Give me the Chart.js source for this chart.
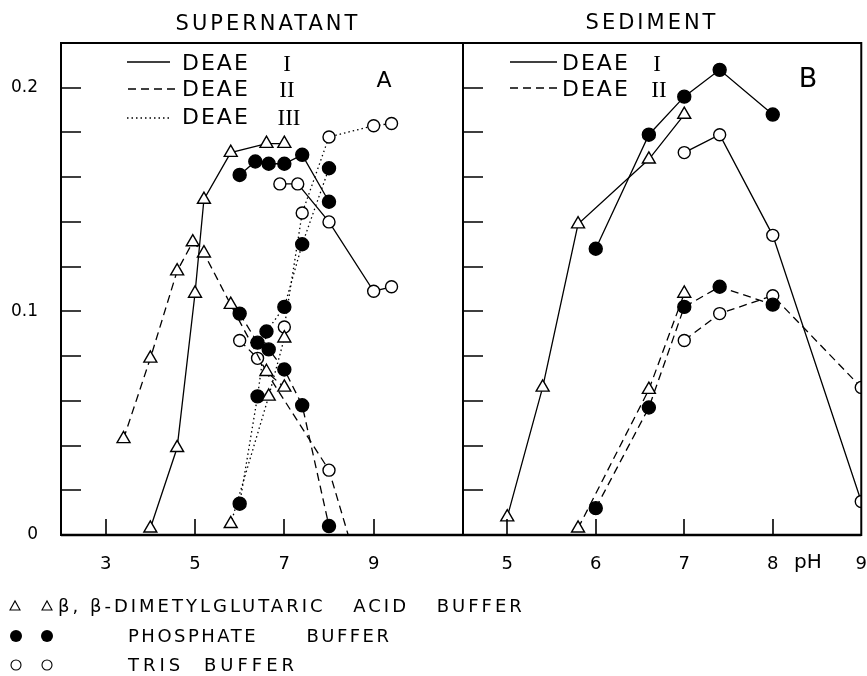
<!DOCTYPE html>
<html>
<head>
<meta charset="utf-8">
<script src="https://cdn.jsdelivr.net/npm/chart.js@4.4.1/dist/chart.umd.min.js"></script>
<style>
  body { margin: 0; background: #fff; }
  #page { position: relative; width: 867px; height: 676px; overflow: hidden; background: #fff; font-family: "DejaVu Sans", sans-serif; color: #000; }
  canvas { position: absolute; top: 0; }
  #cA { left: 0; }
  #cB { left: 462px; }
  .t { position: absolute; white-space: pre; line-height: 1; transform: translateY(-50%); }
  .c { transform: translate(-50%, -50%); }
  .title { font-size: 21px; letter-spacing: 3px; }
  .deae { font-size: 22px; letter-spacing: 2px; }
  .rom { font-family: "Liberation Serif", serif; font-size: 23px; }
  .leg { font-size: 18px; letter-spacing: 3px; }
  .nows { word-spacing: 0; }
  svg { position: absolute; left: 0; top: 0; }
</style>
</head>
<body>
<div id="page">
  <canvas id="cA" width="464" height="600"></canvas>
  <canvas id="cB" width="405" height="600"></canvas>

  <div class="t c title" style="left:268px;top:23px">SUPERNATANT</div>
  <div class="t c title" style="left:652px;top:22px">SEDIMENT</div>

  <div class="t deae" style="left:182px;top:63px">DEAE</div>
  <div class="t deae" style="left:182px;top:89px">DEAE</div>
  <div class="t deae" style="left:182px;top:117px">DEAE</div>
  <div class="t c rom" style="left:287px;top:63px">I</div>
  <div class="t c rom" style="left:287px;top:89px">II</div>
  <div class="t c rom" style="left:289px;top:117px">III</div>
  <div class="t c" style="left:384px;top:80px;font-size:22px">A</div>

  <div class="t deae" style="left:562px;top:63px">DEAE</div>
  <div class="t deae" style="left:562px;top:89px">DEAE</div>
  <div class="t c rom" style="left:657px;top:63px">I</div>
  <div class="t c rom" style="left:659px;top:89px">II</div>
  <div class="t c" style="left:808px;top:77px;font-size:27px">B</div>

  <div class="t" style="left:794px;top:561px;font-size:20px">pH</div>

  <div class="t leg" style="left:58px;top:606px;word-spacing:19px"><span class="nows">β, β-DIMETYLGLUTARIC</span> ACID BUFFER</div>
  <div class="t leg" style="left:128px;top:636px;word-spacing:40px;letter-spacing:2.5px">PHOSPHATE BUFFER</div>
  <div class="t leg" style="left:128px;top:665px;word-spacing:10px;letter-spacing:4px">TRIS BUFFER</div>

  <svg width="867" height="676">
    <g stroke="#000" stroke-width="1.3" fill="none">
      <line x1="127" y1="62" x2="170" y2="62"/>
      <line x1="128" y1="89" x2="175" y2="89" stroke-dasharray="8 5"/>
      <line x1="127" y1="118" x2="170" y2="118" stroke-dasharray="1.5 3"/>
      <line x1="510" y1="62" x2="557" y2="62"/>
      <line x1="510" y1="88" x2="557" y2="88" stroke-dasharray="8 5"/>
      <polygon points="10,610 20,610 15,601" stroke-width="1.1"/>
      <polygon points="42,610 52,610 47,601" stroke-width="1.1"/>
      <circle cx="16" cy="665" r="5" stroke-width="1.1"/>
      <circle cx="47" cy="665" r="5" stroke-width="1.1"/>
    </g>
    <circle cx="16" cy="636" r="6" fill="#000"/>
    <circle cx="47" cy="636" r="6" fill="#000"/>
  </svg>
</div>

<script>
/* axes */
const yTickVals = [0, 0.02, 0.04, 0.06, 0.08, 0.1, 0.12, 0.14, 0.16, 0.18, 0.2];
const yLabelVals = [0, 0.1, 0.2];
const xTicksA = [3, 5, 7, 9];
const xTicksB = [5, 6, 7, 8, 9];

/* SUPERNATANT (A) */
// DEAE I
const supI_dmgPH = [4.0, 4.6, 5.0, 5.2, 5.8, 6.6, 7.0];
const supI_dmgVal = [0.003, 0.039, 0.108, 0.150, 0.171, 0.175, 0.175];
const supI_phosPH = [6.0, 6.35, 6.65, 7.0, 7.4, 8.0];
const supI_phosVal = [0.161, 0.167, 0.166, 0.166, 0.170, 0.149];
const supI_trisPH = [6.9, 7.3, 8.0, 9.0, 9.4];
const supI_trisVal = [0.157, 0.157, 0.140, 0.109, 0.111];
// DEAE II
const supII_dmgPH = [3.4, 4.0, 4.6, 4.95, 5.2, 5.8, 6.6, 7.0];
const supII_dmgVal = [0.043, 0.079, 0.118, 0.131, 0.126, 0.103, 0.073, 0.066];
const supII_phosPH = [6.0, 6.4, 6.65, 7.0, 7.4, 8.0];
const supII_phosVal = [0.099, 0.086, 0.083, 0.074, 0.058, 0.004];
const supII_trisPH = [6.0, 6.4, 8.0, 8.43];
const supII_trisVal = [0.087, 0.079, 0.029, 0];
// DEAE III
const supIII_dmgPH = [5.8, 6.65, 7.0];
const supIII_dmgVal = [0.005, 0.062, 0.088];
const supIII_phosPH = [6.0, 6.4, 6.6, 7.0, 7.4, 8.0];
const supIII_phosVal = [0.014, 0.062, 0.091, 0.102, 0.130, 0.164];
const supIII_trisPH = [7.0, 7.4, 8.0, 9.0, 9.4];
const supIII_trisVal = [0.093, 0.144, 0.178, 0.183, 0.184];

/* SEDIMENT (B) */
const sedI_dmgPH = [5.0, 5.4, 5.8, 6.6, 7.0];
const sedI_dmgVal = [0.008, 0.066, 0.139, 0.168, 0.188];
const sedI_phosPH = [6.0, 6.6, 7.0, 7.4, 8.0];
const sedI_phosVal = [0.128, 0.179, 0.196, 0.208, 0.188];
const sedI_trisPH = [7.0, 7.4, 8.0, 9.0];
const sedI_trisVal = [0.171, 0.179, 0.134, 0.015];
const sedII_dmgPH = [5.8, 6.6, 7.0];
const sedII_dmgVal = [0.003, 0.065, 0.108];
const sedII_phosPH = [6.0, 6.6, 7.0, 7.4, 8.0];
const sedII_phosVal = [0.012, 0.057, 0.102, 0.111, 0.103];
const sedII_trisPH = [7.0, 7.4, 8.0, 9.0];
const sedII_trisVal = [0.087, 0.099, 0.107, 0.066];

const markers = {
    tri: { pointStyle: "triangle", pointRadius: 7.5, pointBackgroundColor: "#fff" },
    dot: { pointStyle: "circle", pointRadius: 6.5, pointBackgroundColor: "#000" },
    ring: { pointStyle: "circle", pointRadius: 6, pointBackgroundColor: "#fff" }
};
const dashes = { solid: [], dashed: [8, 5], dotted: [1.5, 3] };

function series(ph, val, mark, dash, radius) {
    const m = markers[mark];
    return {
        data: ph.map((p, i) => ({ x: p, y: val[i] })),
        borderColor: "#000",
        borderWidth: 1.3,
        borderDash: dashes[dash],
        pointStyle: m.pointStyle,
        pointRadius: radius || m.pointRadius,
        pointBackgroundColor: m.pointBackgroundColor,
        pointBorderColor: "#000",
        pointBorderWidth: 1.4,
        tension: 0,
        fill: false
    };
}

// border box and inward tick marks
const frame = {
    id: "frame",
    afterDatasetsDraw(chart, args, o) {
        const { ctx, chartArea: a, scales: { x, y } } = chart;
        ctx.save();
        ctx.strokeStyle = "#000";
        ctx.lineWidth = 2;
        ctx.strokeRect(a.left, a.top, a.right - a.left, a.bottom - a.top);
        ctx.lineWidth = 2.5;
        ctx.beginPath();
        ctx.moveTo(a.left, a.bottom);
        ctx.lineTo(a.right, a.bottom);
        ctx.stroke();
        ctx.lineWidth = 1.6;
        ctx.beginPath();
        yTickVals.forEach(v => {
            if (v === 0) return;
            const py = Math.round(y.getPixelForValue(v));
            ctx.moveTo(a.left, py);
            ctx.lineTo(a.left + 20, py);
        });
        o.xTicks.forEach(v => {
            const px = Math.round(x.getPixelForValue(v));
            ctx.moveTo(px, a.bottom);
            ctx.lineTo(px, a.bottom - 16);
        });
        ctx.stroke();
        ctx.restore();
    }
};

// tick marks are hidden; tickLength only pushes the labels away from the axis
function xScale(min, max, ticks) {
    return {
        type: "linear", min: min, max: max,
        border: { display: false },
        grid: { display: false, drawTicks: true, tickLength: 19 },
        ticks: { autoSkip: false, maxRotation: 0, padding: 0, color: "#000",
                 font: { family: "DejaVu Sans", size: 18 } },
        afterBuildTicks: s => { s.ticks = ticks.map(v => ({ value: v })); },
        afterFit: s => { s.height = 65; }
    };
}

function yScale(show) {
    return {
        type: "linear", min: 0, max: 0.22,
        display: show,
        border: { display: false },
        grid: { display: false, drawTicks: true, tickLength: 23 },
        ticks: {
            autoSkip: false, padding: 0, color: "#000",
            font: { family: "DejaVu Sans", size: 17 },
            callback: v => yLabelVals.some(l => Math.abs(l - v) < 1e-9) ? (v === 0 ? "0" : v.toFixed(1)) : ""
        },
        afterBuildTicks: s => { s.ticks = yTickVals.map(v => ({ value: v })); },
        afterFit: s => { if (show) s.width = 61; }
    };
}

function makeChart(id, datasets, xs, ys, pad, xTicks) {
    return new Chart(document.getElementById(id), {
        type: "line",
        data: { datasets: datasets },
        options: {
            responsive: false,
            animation: false,
            layout: { padding: pad, autoPadding: false },
            plugins: { legend: { display: false }, tooltip: { enabled: false }, frame: { xTicks: xTicks } },
            scales: { x: xs, y: ys }
        },
        plugins: [frame]
    });
}

const trisIIRadius = supII_trisPH.map((p, i) => i === supII_trisPH.length - 1 ? 0 : 6);

makeChart("cA", [
    series(supI_dmgPH, supI_dmgVal, "tri", "solid"),
    series(supI_phosPH, supI_phosVal, "dot", "solid"),
    series(supI_trisPH, supI_trisVal, "ring", "solid"),
    series(supII_dmgPH, supII_dmgVal, "tri", "dashed"),
    series(supII_phosPH, supII_phosVal, "dot", "dashed"),
    series(supII_trisPH, supII_trisVal, "ring", "dashed", trisIIRadius),
    series(supIII_dmgPH, supIII_dmgVal, "tri", "dotted"),
    series(supIII_phosPH, supIII_phosVal, "dot", "dotted"),
    series(supIII_trisPH, supIII_trisVal, "ring", "dotted")
], xScale(2, 11, xTicksA), yScale(true), { top: 43, right: 1, left: 0, bottom: 0 }, [3, 5, 7, 9]);

makeChart("cB", [
    series(sedI_dmgPH, sedI_dmgVal, "tri", "solid"),
    series(sedI_phosPH, sedI_phosVal, "dot", "solid"),
    series(sedI_trisPH, sedI_trisVal, "ring", "solid"),
    series(sedII_dmgPH, sedII_dmgVal, "tri", "dashed"),
    series(sedII_phosPH, sedII_phosVal, "dot", "dashed"),
    series(sedII_trisPH, sedII_trisVal, "ring", "dashed")
], xScale(4.5, 9, xTicksB), yScale(false), { top: 43, right: 5, left: 1, bottom: 0 }, [5, 6, 7, 8]);
</script>
</body>
</html>
